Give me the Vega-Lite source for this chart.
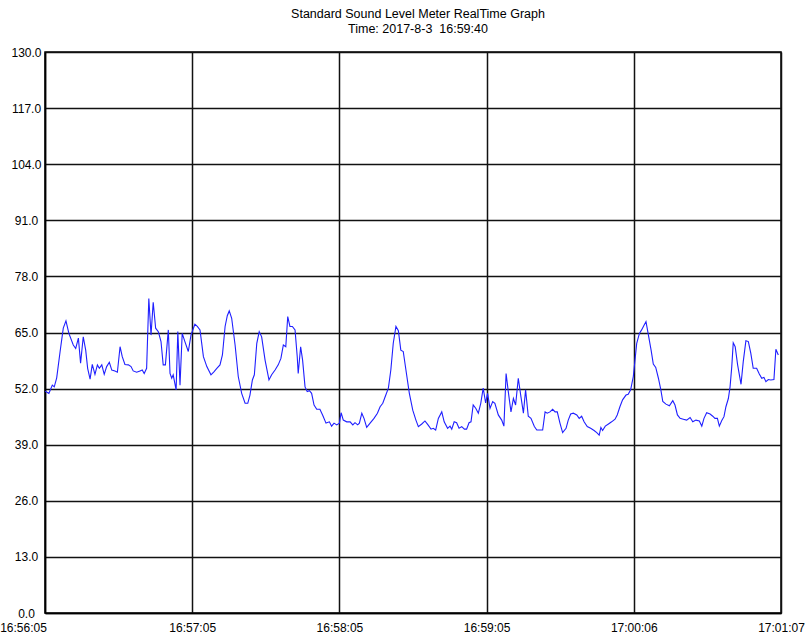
{
  "$schema": "https://vega.github.io/schema/vega-lite/v6.json",
  "width": 736,
  "height": 561,
  "autosize": {"type": "none"},
  "padding": {"left": 45, "top": 52, "right": 30, "bottom": 26},
  "background": "#ffffff",
  "title": {
    "text": ["Standard Sound Level Meter RealTime Graph", "Time: 2017-8-3\u00a0 16:59:40"],
    "font": "Liberation Sans",
    "fontSize": 12.5,
    "fontWeight": "normal",
    "color": "#000000",
    "anchor": "middle",
    "baseline": "bottom",
    "lineHeight": 15,
    "offset": -2,
    "dx": 5
  },
  "data": {
    "values": [
      {"t": 0, "db": 51.4}, {"t": 1.6, "db": 50.9}, {"t": 3.0, "db": 52.8}, {"t": 3.8, "db": 52.4},
      {"t": 4.8, "db": 54.5}, {"t": 6.2, "db": 60.6}, {"t": 7.5, "db": 66.0}, {"t": 8.6, "db": 67.7},
      {"t": 9.8, "db": 64.8}, {"t": 11.6, "db": 62.1}, {"t": 12.6, "db": 61.3}, {"t": 13.7, "db": 63.7},
      {"t": 14.6, "db": 57.9}, {"t": 15.7, "db": 64.0}, {"t": 16.7, "db": 60.9}, {"t": 17.5, "db": 56.7},
      {"t": 18.5, "db": 54.2}, {"t": 19.4, "db": 57.6}, {"t": 20.5, "db": 55.3}, {"t": 21.5, "db": 57.5},
      {"t": 22.3, "db": 56.7}, {"t": 23.3, "db": 57.5}, {"t": 24.3, "db": 55.3}, {"t": 25.3, "db": 57.1},
      {"t": 26.4, "db": 58.1}, {"t": 27.4, "db": 56.3}, {"t": 28.7, "db": 56.1}, {"t": 29.7, "db": 55.8},
      {"t": 30.8, "db": 61.7}, {"t": 31.7, "db": 59.4}, {"t": 32.8, "db": 57.6}, {"t": 34.2, "db": 57.5},
      {"t": 35.3, "db": 57.1}, {"t": 36.2, "db": 56.1}, {"t": 37.6, "db": 55.8}, {"t": 39.0, "db": 56.1},
      {"t": 39.9, "db": 56.3}, {"t": 40.7, "db": 55.5}, {"t": 41.7, "db": 56.7}, {"t": 42.6, "db": 72.9},
      {"t": 43.5, "db": 64.4}, {"t": 44.4, "db": 72.0}, {"t": 45.4, "db": 66.0}, {"t": 46.5, "db": 65.2},
      {"t": 47.6, "db": 62.9}, {"t": 48.5, "db": 57.5}, {"t": 49.4, "db": 57.5}, {"t": 50.6, "db": 65.6},
      {"t": 51.3, "db": 55.5}, {"t": 52.0, "db": 54.4}, {"t": 52.6, "db": 55.2}, {"t": 53.8, "db": 51.7},
      {"t": 54.5, "db": 65.2}, {"t": 55.4, "db": 52.8}, {"t": 56.3, "db": 64.8}, {"t": 57.4, "db": 62.9},
      {"t": 58.8, "db": 60.6}, {"t": 59.9, "db": 64.4}, {"t": 61.5, "db": 66.9}, {"t": 62.5, "db": 66.4},
      {"t": 63.6, "db": 65.6}, {"t": 65.0, "db": 59.4}, {"t": 66.4, "db": 57.1}, {"t": 68.1, "db": 55.2},
      {"t": 69.3, "db": 55.9}, {"t": 70.5, "db": 56.7}, {"t": 71.8, "db": 57.5}, {"t": 72.8, "db": 59.8},
      {"t": 73.9, "db": 66.4}, {"t": 74.8, "db": 68.9}, {"t": 75.6, "db": 70.0}, {"t": 76.6, "db": 68.3},
      {"t": 78.0, "db": 62.1}, {"t": 79.3, "db": 54.8}, {"t": 80.7, "db": 50.9}, {"t": 82.1, "db": 48.6},
      {"t": 83.2, "db": 48.6}, {"t": 84.1, "db": 50.5}, {"t": 85.1, "db": 54.0}, {"t": 85.9, "db": 55.2},
      {"t": 86.9, "db": 62.5}, {"t": 87.9, "db": 65.2}, {"t": 88.9, "db": 64.0}, {"t": 90.3, "db": 58.6},
      {"t": 91.9, "db": 54.0}, {"t": 93.0, "db": 55.2}, {"t": 94.4, "db": 56.3}, {"t": 95.7, "db": 57.5},
      {"t": 96.8, "db": 59.0}, {"t": 97.8, "db": 62.1}, {"t": 98.8, "db": 61.7}, {"t": 99.6, "db": 68.7},
      {"t": 100.5, "db": 66.4}, {"t": 101.5, "db": 66.4}, {"t": 102.6, "db": 65.6}, {"t": 103.5, "db": 59.4},
      {"t": 103.9, "db": 55.5}, {"t": 104.9, "db": 61.7}, {"t": 105.7, "db": 58.6}, {"t": 106.7, "db": 52.4},
      {"t": 107.6, "db": 51.3}, {"t": 108.5, "db": 51.5}, {"t": 109.4, "db": 50.9}, {"t": 110.4, "db": 48.2},
      {"t": 111.5, "db": 47.2}, {"t": 112.8, "db": 47.2}, {"t": 113.9, "db": 45.9}, {"t": 115.3, "db": 44.0},
      {"t": 116.7, "db": 44.3}, {"t": 117.6, "db": 43.3}, {"t": 118.6, "db": 44.0}, {"t": 119.7, "db": 43.6},
      {"t": 120.8, "db": 44.0}, {"t": 121.5, "db": 46.4}, {"t": 122.4, "db": 44.7}, {"t": 123.8, "db": 44.3},
      {"t": 125.2, "db": 44.3}, {"t": 126.3, "db": 43.6}, {"t": 127.2, "db": 44.1}, {"t": 128.3, "db": 43.6},
      {"t": 129.0, "db": 44.0}, {"t": 130.0, "db": 46.3}, {"t": 130.9, "db": 45.1}, {"t": 132.0, "db": 43.0},
      {"t": 133.4, "db": 44.0}, {"t": 135.0, "db": 45.1}, {"t": 136.4, "db": 46.3}, {"t": 137.5, "db": 47.8},
      {"t": 138.6, "db": 48.6}, {"t": 139.5, "db": 50.0}, {"t": 140.9, "db": 52.1}, {"t": 141.9, "db": 56.3},
      {"t": 142.9, "db": 62.5}, {"t": 144.0, "db": 66.4}, {"t": 145.0, "db": 65.4}, {"t": 146.0, "db": 60.9},
      {"t": 147.0, "db": 60.6}, {"t": 148.1, "db": 56.3}, {"t": 149.5, "db": 50.9}, {"t": 150.9, "db": 47.0},
      {"t": 152.2, "db": 44.7}, {"t": 153.2, "db": 43.2}, {"t": 154.6, "db": 43.8}, {"t": 155.9, "db": 44.5},
      {"t": 157.0, "db": 43.7}, {"t": 158.4, "db": 42.6}, {"t": 159.3, "db": 42.8}, {"t": 160.3, "db": 42.4},
      {"t": 161.4, "db": 45.1}, {"t": 162.8, "db": 46.6}, {"t": 163.8, "db": 44.3}, {"t": 165.2, "db": 42.8},
      {"t": 166.2, "db": 43.3}, {"t": 166.9, "db": 42.6}, {"t": 167.9, "db": 44.3}, {"t": 168.9, "db": 44.1},
      {"t": 169.9, "db": 42.8}, {"t": 171.0, "db": 43.2}, {"t": 172.1, "db": 42.6}, {"t": 173.0, "db": 42.6},
      {"t": 174.0, "db": 44.1}, {"t": 174.8, "db": 44.3}, {"t": 175.7, "db": 48.2}, {"t": 176.8, "db": 47.4},
      {"t": 177.8, "db": 46.3}, {"t": 178.8, "db": 48.6}, {"t": 179.8, "db": 52.1}, {"t": 180.8, "db": 48.7},
      {"t": 181.6, "db": 50.9}, {"t": 182.6, "db": 47.4}, {"t": 183.7, "db": 49.0}, {"t": 184.6, "db": 48.6},
      {"t": 186.0, "db": 45.9}, {"t": 187.4, "db": 44.7}, {"t": 188.3, "db": 43.3}, {"t": 189.2, "db": 55.5},
      {"t": 190.1, "db": 51.3}, {"t": 191.2, "db": 46.6}, {"t": 192.2, "db": 49.7}, {"t": 193.1, "db": 48.2},
      {"t": 194.2, "db": 54.4}, {"t": 195.3, "db": 50.1}, {"t": 196.3, "db": 46.3}, {"t": 197.2, "db": 51.7},
      {"t": 198.3, "db": 45.6}, {"t": 199.4, "db": 45.1}, {"t": 200.8, "db": 43.2}, {"t": 201.8, "db": 42.4},
      {"t": 203.1, "db": 42.4}, {"t": 204.2, "db": 42.4}, {"t": 205.2, "db": 46.6}, {"t": 206.1, "db": 46.3},
      {"t": 207.2, "db": 46.6}, {"t": 208.3, "db": 47.2}, {"t": 209.3, "db": 46.6}, {"t": 210.2, "db": 46.6},
      {"t": 211.3, "db": 44.0}, {"t": 212.4, "db": 41.8}, {"t": 213.8, "db": 42.8}, {"t": 214.7, "db": 44.7},
      {"t": 215.7, "db": 46.1}, {"t": 216.8, "db": 46.3}, {"t": 218.2, "db": 45.9}, {"t": 219.2, "db": 45.1},
      {"t": 220.2, "db": 45.6}, {"t": 221.2, "db": 44.3}, {"t": 222.5, "db": 43.2}, {"t": 223.9, "db": 42.8},
      {"t": 225.3, "db": 42.3}, {"t": 226.4, "db": 41.8}, {"t": 227.4, "db": 41.2}, {"t": 228.1, "db": 43.0},
      {"t": 228.8, "db": 42.3}, {"t": 229.9, "db": 43.3}, {"t": 231.2, "db": 43.8}, {"t": 232.5, "db": 44.3},
      {"t": 233.9, "db": 44.9}, {"t": 234.8, "db": 45.9}, {"t": 235.9, "db": 47.8}, {"t": 237.0, "db": 49.4},
      {"t": 238.4, "db": 50.5}, {"t": 239.3, "db": 50.7}, {"t": 240.3, "db": 51.7}, {"t": 241.4, "db": 54.8},
      {"t": 242.8, "db": 62.5}, {"t": 243.9, "db": 64.8}, {"t": 244.8, "db": 65.6}, {"t": 245.8, "db": 66.7},
      {"t": 246.6, "db": 67.5}, {"t": 247.6, "db": 64.4}, {"t": 248.7, "db": 60.9}, {"t": 249.6, "db": 57.7},
      {"t": 250.6, "db": 56.9}, {"t": 251.7, "db": 54.4}, {"t": 252.7, "db": 51.7}, {"t": 253.5, "db": 49.0},
      {"t": 254.8, "db": 48.4}, {"t": 256.2, "db": 48.0}, {"t": 257.6, "db": 49.2}, {"t": 258.5, "db": 48.2},
      {"t": 259.5, "db": 45.9}, {"t": 260.6, "db": 45.1}, {"t": 261.9, "db": 44.9}, {"t": 263.3, "db": 44.7},
      {"t": 264.7, "db": 45.3}, {"t": 265.8, "db": 44.3}, {"t": 267.1, "db": 44.7}, {"t": 268.5, "db": 44.5},
      {"t": 269.5, "db": 43.3}, {"t": 270.4, "db": 45.1}, {"t": 271.5, "db": 46.4}, {"t": 272.9, "db": 46.1},
      {"t": 274.0, "db": 45.6}, {"t": 274.9, "db": 45.1}, {"t": 275.9, "db": 45.1}, {"t": 276.7, "db": 43.3},
      {"t": 277.7, "db": 44.6}, {"t": 278.6, "db": 45.5}, {"t": 279.4, "db": 47.8}, {"t": 280.4, "db": 49.7},
      {"t": 281.1, "db": 52.4}, {"t": 281.8, "db": 57.1}, {"t": 282.4, "db": 62.6}, {"t": 283.2, "db": 61.7},
      {"t": 284.2, "db": 57.5}, {"t": 285.6, "db": 53.0}, {"t": 286.5, "db": 58.2}, {"t": 287.6, "db": 63.1},
      {"t": 288.6, "db": 62.9}, {"t": 289.6, "db": 60.2}, {"t": 290.6, "db": 56.7}, {"t": 292.0, "db": 56.7},
      {"t": 293.1, "db": 55.4}, {"t": 294.1, "db": 54.4}, {"t": 295.0, "db": 54.6}, {"t": 295.8, "db": 53.6},
      {"t": 296.8, "db": 54.1}, {"t": 297.8, "db": 54.0}, {"t": 299.1, "db": 54.1}, {"t": 299.9, "db": 61.1},
      {"t": 300.9, "db": 59.8}
    ]
  },
  "mark": {"type": "line", "color": "#1f1fff", "strokeWidth": 1.1, "clip": true},
  "encoding": {
    "x": {
      "field": "t",
      "type": "quantitative",
      "scale": {"domain": [0, 302], "nice": false, "zero": false},
      "axis": {
        "title": null,
        "values": [0, 60.4, 120.8, 181.2, 241.6, 302],
        "labelExpr": "['16:56:05','16:57:05','16:58:05','16:59:05','17:00:06','17:01:07'][round(datum.value/60.4)]",
        "ticks": false,
        "labelPadding": 9,
        "labelAlign": "center",
        "labelOffset": {"condition": {"test": "datum.value == 0", "value": -22}, "value": 0},
        "labelOverlap": false,
        "labelFlush": false,
        "labelBound": false
      }
    },
    "y": {
      "field": "db",
      "type": "quantitative",
      "scale": {"domain": [0, 130], "nice": false, "zero": true},
      "axis": {
        "title": null,
        "values": [0, 13, 26, 39, 52, 65, 78, 91, 104, 117, 130],
        "format": ".1f",
        "ticks": false,
        "labelAlign": "center",
        "labelPadding": 19,
        "labelOverlap": false,
        "labelFlush": false,
        "labelBound": false
      }
    }
  },
  "config": {
    "view": {"stroke": "#000000", "strokeWidth": 1.5},
    "axis": {
      "grid": true,
      "gridColor": "#111111",
      "gridWidth": 1.5,
      "gridOpacity": 1,
      "domainColor": "#000000",
      "domainWidth": 1.5,
      "labelFont": "Liberation Sans",
      "labelFontSize": 12,
      "labelColor": "#000000"
    }
  }
}
